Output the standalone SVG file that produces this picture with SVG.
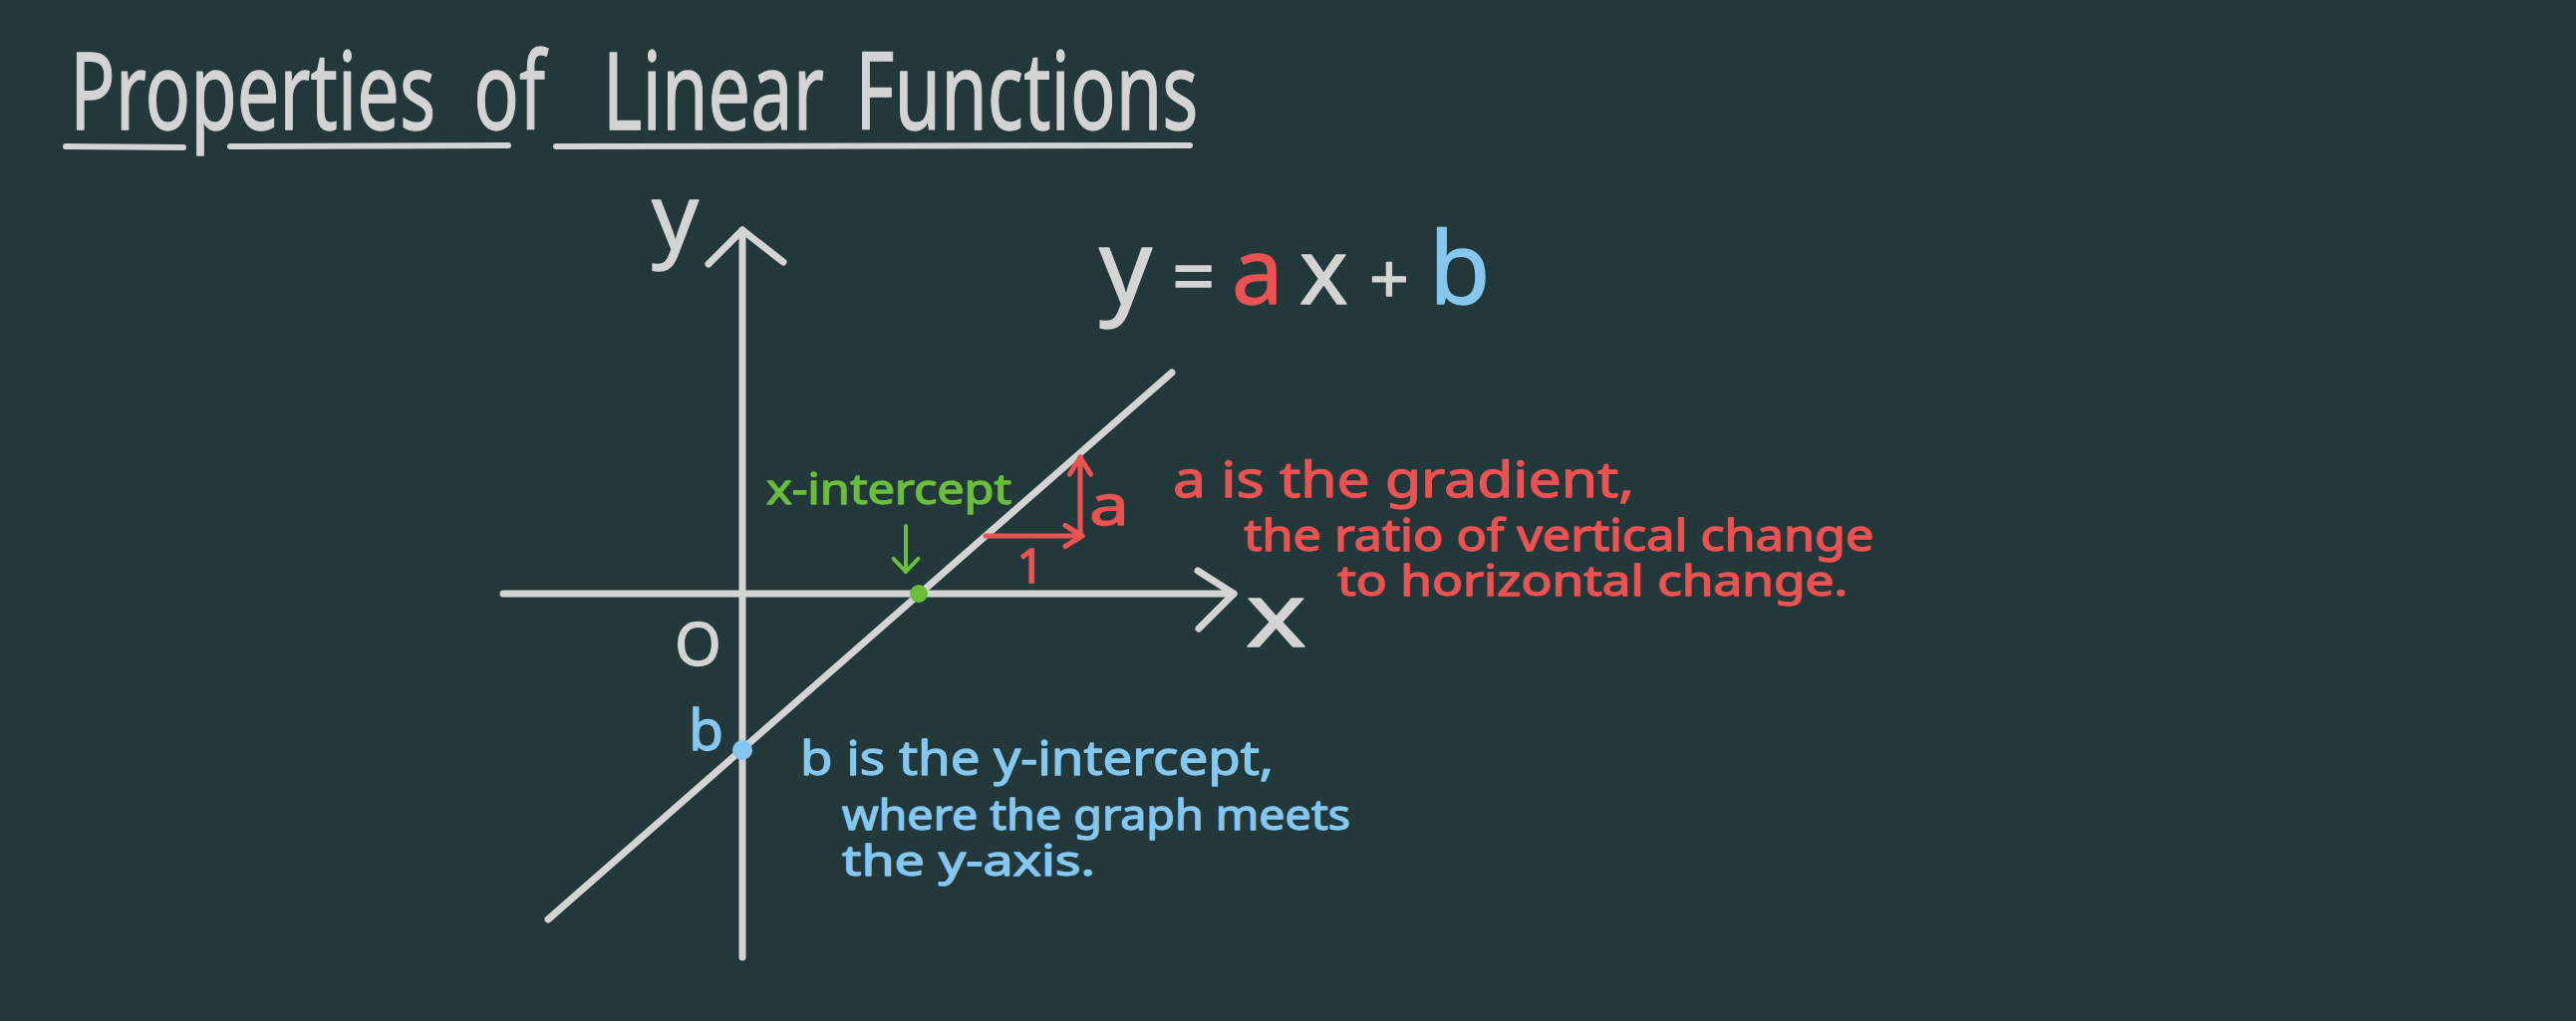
<svg xmlns="http://www.w3.org/2000/svg" width="2585" height="1025" viewBox="0 0 2585 1025">
  <style>
    .chalk { fill: none; stroke: #D4D4D4; stroke-linecap: round; stroke-linejoin: round; }
    .txt { font-family: "Noto Sans", "Liberation Sans", sans-serif; stroke-width: 1.3; stroke-linejoin: round; }
    .white { fill: #D4D4D4; stroke: #D4D4D4; }
    .red { fill: #EB5252; stroke: #EB5252; }
    .blue { fill: #85C7EF; stroke: #85C7EF; }
    .green { fill: #6CBD3C; stroke: #6CBD3C; }
  </style>
  <defs>
    <marker id="ah-red" viewBox="-5 -4 6 8" refX="0" refY="0" markerWidth="6" markerHeight="8" orient="auto" markerUnits="strokeWidth" overflow="visible">
      <path d="M-3.4,-2.1 L0,0 L-3.4,2.1" fill="none" stroke="#EB5252" stroke-width="1" stroke-linecap="round" stroke-linejoin="round"/>
    </marker>
    <marker id="ah-green" viewBox="-5 -4 6 8" refX="0" refY="0" markerWidth="6" markerHeight="8" orient="auto" markerUnits="strokeWidth" overflow="visible">
      <path d="M-3.3,-3.1 L0,0 L-3.3,3.1" fill="none" stroke="#6CBD3C" stroke-width="1" stroke-linecap="round" stroke-linejoin="round"/>
    </marker>
  </defs>

  <rect x="0" y="0" width="2585" height="1025" fill="#22383A"/>

  <g id="title">
    <text class="txt white" transform="scale(0.7,1)" y="130" font-size="108" stroke-width="2.5"><tspan x="100">Properties</tspan><tspan x="679">of</tspan><tspan x="864">Linear</tspan><tspan x="1226">Functions</tspan></text>
    <path class="chalk" stroke-width="6" d="M66,147 L184,148 M231,147 L510,146 M558,147 L1194,146"/>
  </g>

  <g id="y-axis">
    <path class="chalk" stroke-width="7" d="M745,231 L745,961"/>
    <path class="chalk" stroke-width="7" d="M711,265 L745,231 L786,263"/>
    <text class="txt white" x="654" y="250" font-size="92">y</text>
  </g>

  <g id="x-axis">
    <path class="chalk" stroke-width="7" d="M505,596 L1238,596"/>
    <path class="chalk" stroke-width="7" d="M1202,573 L1238,596 L1203,631"/>
    <text class="txt white" x="1250" y="649" font-size="90" textLength="61" lengthAdjust="spacingAndGlyphs">x</text>
  </g>

  <g id="origin">
    <text class="txt white" x="677" y="668" font-size="60">O</text>
  </g>

  <g id="graph-line">
    <path class="chalk" stroke-width="7" d="M550,923 L1176,374"/>
  </g>

  <g id="equation">
    <text class="txt white" x="1103" y="305" font-size="104" stroke-width="2">y</text>
    <text class="txt white" x="1176" y="305" font-size="76" stroke-width="2">=</text>
    <text class="txt red" x="1236" y="305" font-size="92" stroke-width="2">a</text>
    <text class="txt white" x="1304" y="305" font-size="92" stroke-width="2">x</text>
    <text class="txt white" x="1374" y="305" font-size="70" stroke-width="2">+</text>
    <text class="txt blue" x="1434" y="305" font-size="100" stroke-width="2">b</text>
  </g>

  <g id="x-intercept">
    <circle cx="922" cy="596" r="9" fill="#6CBD3C"/>
    <text class="txt green" x="769" y="506" font-size="42" textLength="246" lengthAdjust="spacingAndGlyphs">x-intercept</text>
  </g>

  <g id="y-intercept">
    <circle cx="745" cy="753" r="10" fill="#85C7EF"/>
    <text class="txt blue" x="691" y="753" font-size="57">b</text>
    <text class="txt blue" x="803" y="778" font-size="47" textLength="475" lengthAdjust="spacingAndGlyphs">b is the y-intercept,</text>
    <text class="txt blue" x="845" y="833" font-size="42" textLength="510" lengthAdjust="spacingAndGlyphs">where the graph meets</text>
    <text class="txt blue" x="845" y="879" font-size="42" textLength="254" lengthAdjust="spacingAndGlyphs">the y-axis.</text>
  </g>

  <g id="gradient">
    <text class="txt red" x="1093" y="527" font-size="56" textLength="40" lengthAdjust="spacingAndGlyphs">a</text>
    <text class="txt red" x="1020" y="585" font-size="48" stroke-width="2">1</text>
    <text class="txt red" x="1177" y="499" font-size="50" textLength="463" lengthAdjust="spacingAndGlyphs">a is the gradient,</text>
    <text class="txt red" x="1248" y="553" font-size="44" textLength="632" lengthAdjust="spacingAndGlyphs">the ratio of vertical change</text>
    <text class="txt red" x="1342" y="598" font-size="42" textLength="512" lengthAdjust="spacingAndGlyphs">to horizontal change.</text>
  </g>

  <g id="connectors">
    <path d="M909,528 L909,574" fill="none" stroke="#6CBD3C" stroke-width="4" stroke-linecap="round" marker-end="url(#ah-green)"/>
    <path d="M989,538 L1086,538" fill="none" stroke="#EB5252" stroke-width="5" stroke-linecap="round" marker-end="url(#ah-red)"/>
    <path d="M1084,538 L1084,459" fill="none" stroke="#EB5252" stroke-width="5" stroke-linecap="round" marker-end="url(#ah-red)"/>
  </g>
</svg>
